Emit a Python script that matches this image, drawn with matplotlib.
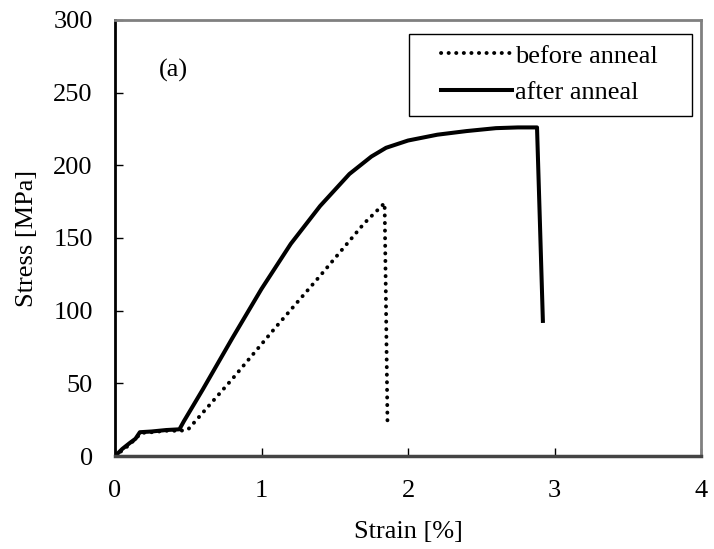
import matplotlib
matplotlib.use("Agg")
import matplotlib.pyplot as plt
from matplotlib.patches import Rectangle

plt.rcParams["font.family"] = ["Liberation Serif", "DejaVu Serif"]

# stress-strain data, strain in %, stress in MPa
strain_before = [0.0, 0.05, 0.1, 0.14, 0.18, 0.25, 0.35, 0.45, 0.5, 0.8, 1.1, 1.4, 1.7, 1.84, 1.85, 1.86]
stress_before = [0.0, 4.0, 8.0, 12.0, 16.0, 16.5, 17.5, 17.5, 18.5, 53.0, 89.0, 124.0, 160.0, 174.0, 100.0, 20.0]

strain_after = [0.0, 0.05, 0.1, 0.14, 0.17, 0.25, 0.35, 0.44, 0.47, 0.6, 0.8, 1.0, 1.2, 1.4, 1.6,
                1.75, 1.85, 2.0, 2.2, 2.4, 2.6, 2.75, 2.88, 2.9, 2.92]
stress_after = [0.0, 5.0, 9.0, 12.0, 16.5, 17.0, 18.0, 18.5, 24.0, 46.0, 81.0, 115.0, 146.0, 172.0, 194.0,
                206.0, 212.0, 217.0, 221.0, 223.5, 225.5, 226.0, 226.0, 160.0, 93.0]

fig = plt.figure(figsize=(7.14, 5.49), dpi=100)
ax = fig.add_axes([0.161, 0.169, 0.821, 0.795])

ax.plot(strain_before, stress_before, color="black", linestyle=(0, (0.05, 1.9)), linewidth=2.8,
        dash_capstyle="round", label="before anneal")
ax.plot(strain_after, stress_after, color="black", linestyle="-", linewidth=2.9,
        label="after anneal")

ax.set_xlim(0, 4)
ax.set_ylim(0, 300)
ax.set_xticks([0, 1, 2, 3, 4])
ax.set_yticks(range(0, 301, 50))
ax.tick_params(direction="in", length=6, width=1, labelsize=19)
ax.tick_params(axis="x", pad=17)
ax.tick_params(axis="y", pad=16)
ax.set_xlabel("Strain [%]", fontsize=19, labelpad=14)
ax.set_ylabel("Stress [MPa]", fontsize=19, labelpad=11)

ax.spines["left"].set_color("black")
ax.spines["left"].set_linewidth(2)
ax.spines["bottom"].set_color("#444444")
ax.spines["bottom"].set_linewidth(2.5)
for side in ("top", "right"):
    ax.spines[side].set_color("#808080")
    ax.spines[side].set_linewidth(2)

ax.text(0.3, 265, "(a)", fontsize=19, va="center")

# legend box drawn separately so it can be wider than the entries
ax.add_patch(Rectangle((0.502, 0.779), 0.483, 0.189, transform=ax.transAxes,
                       facecolor="white", edgecolor="black", linewidth=1, zorder=4))
leg = ax.legend(loc="upper left", bbox_to_anchor=(0.556, 0.944), fontsize=19, frameon=False,
                handlelength=2.7, handletextpad=0.1, borderpad=0, borderaxespad=0,
                labelspacing=0.5)
leg.set_zorder(5)

fig.savefig("out.png", dpi=100)
